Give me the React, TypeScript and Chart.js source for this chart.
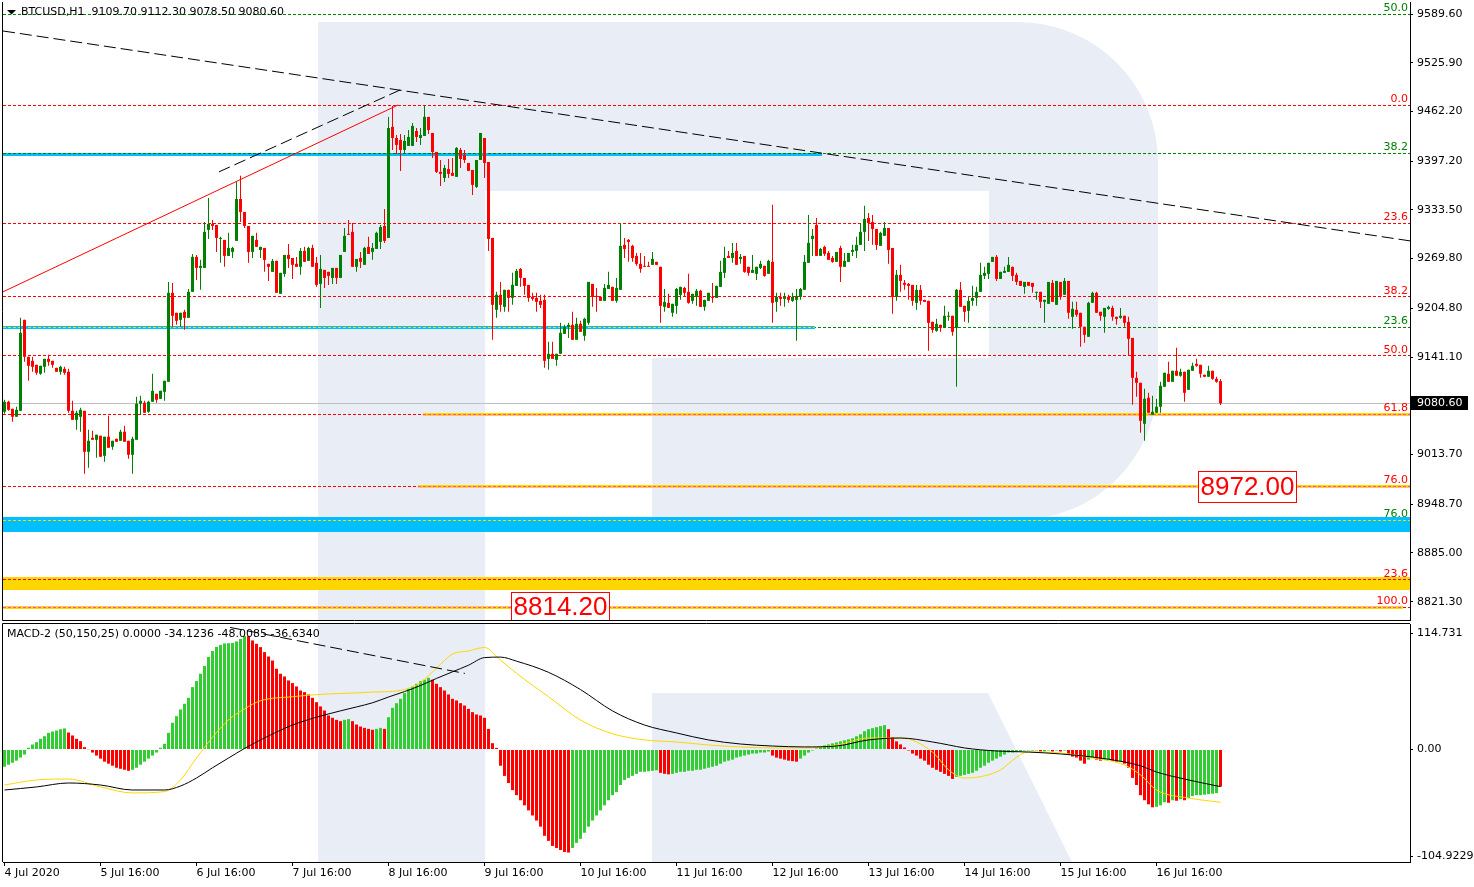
import React, { useEffect, useRef } from 'react';
import { Chart, registerables } from 'chart.js';

Chart.register(...registerables);

// ---------------- DATA ----------------
const opens = [
  9069.6, 9082.7, 9073.5, 9063.1, 9070.9, 9189.8, 9141.5, 9136.2, 9131.0, 9119.3,
  9128.4, 9138.8, 9136.2, 9127.0, 9121.9, 9125.7, 9121.9, 9070.9, 9059.1, 9063.1,
  9070.9, 9017.3, 9035.6, 9033.0, 9038.3, 9012.1, 9037.0, 9023.9, 9034.3, 9031.7,
  9043.5, 9031.7, 9013.4, 9033.0, 9080.1, 9081.4, 9069.6, 9082.7, 9093.1, 9086.5,
  9095.7, 9108.8, 9225.1, 9199.0, 9189.8, 9200.3, 9192.4, 9226.4, 9272.1, 9257.7,
  9257.7, 9307.4, 9315.2, 9313.9, 9295.6, 9294.3, 9273.4, 9278.6, 9293.0, 9347.8,
  9330.9, 9312.6, 9278.6, 9294.3, 9281.2, 9283.8, 9263.0, 9252.5, 9266.9, 9223.8,
  9249.9, 9274.7, 9270.7, 9263.0, 9259.1, 9279.9, 9266.9, 9283.8, 9264.3, 9236.8,
  9255.1, 9252.5, 9244.6, 9257.7, 9244.6, 9278.6, 9302.2, 9304.8, 9259.1, 9270.7,
  9261.7, 9285.2, 9278.6, 9282.5, 9291.7, 9312.6, 9296.9, 9442.0, 9427.5, 9425.0,
  9411.9, 9417.2, 9417.2, 9436.7, 9427.5, 9430.2, 9455.1, 9434.1, 9409.3, 9383.2,
  9375.3, 9387.0, 9381.9, 9376.7, 9411.9, 9405.4, 9394.9, 9385.8, 9363.6, 9398.8,
  9427.5, 9396.2, 9296.9, 9202.9, 9222.5, 9206.8, 9229.0, 9218.5, 9234.2, 9256.4,
  9244.6, 9235.5, 9219.8, 9218.5, 9214.6, 9215.9, 9138.8, 9145.4, 9137.5, 9145.4,
  9171.5, 9180.7, 9183.3, 9163.7, 9184.6, 9168.9, 9185.9, 9236.8, 9221.1, 9219.8,
  9214.6, 9230.2, 9232.9, 9214.6, 9229.0, 9287.8, 9294.3, 9286.5, 9273.4, 9263.0,
  9260.4, 9260.4, 9261.7, 9265.6, 9259.1, 9206.8, 9212.0, 9199.0, 9208.1, 9222.5,
  9231.5, 9226.4, 9214.6, 9219.8, 9227.7, 9206.8, 9214.6, 9219.8, 9218.5, 9232.9,
  9251.2, 9273.4, 9270.7, 9279.9, 9269.4, 9273.4, 9259.1, 9251.2, 9249.9, 9257.7,
  9260.4, 9249.9, 9265.6, 9213.3, 9219.8, 9217.2, 9219.8, 9214.6, 9215.9, 9219.8,
  9229.0, 9264.3, 9295.6, 9313.9, 9273.4, 9285.2, 9277.3, 9270.7, 9265.6, 9283.8,
  9259.1, 9265.6, 9278.6, 9279.9, 9287.8, 9304.8, 9323.0, 9317.8, 9308.6, 9286.5,
  9299.6, 9309.9, 9283.8, 9219.8, 9248.6, 9238.1, 9236.8, 9235.5, 9212.0, 9229.0,
  9215.9, 9214.6, 9187.2, 9175.4, 9183.3, 9179.3, 9193.8, 9195.1, 9179.3, 9229.0,
  9208.1, 9201.6, 9214.6, 9218.5, 9226.4, 9247.3, 9249.9, 9265.6, 9272.1, 9243.3,
  9251.2, 9252.5, 9259.1, 9248.6, 9240.7, 9232.9, 9239.4, 9238.1, 9225.1, 9226.4,
  9213.3, 9210.7, 9238.1, 9209.4, 9239.4, 9222.5, 9240.7, 9193.8, 9202.9, 9199.0,
  9180.7, 9167.6, 9212.0, 9225.1, 9200.3, 9193.8, 9204.1, 9205.4, 9193.8, 9192.4,
  9195.1, 9187.2, 9166.2, 9114.0, 9107.5, 9053.9, 9087.9, 9065.7, 9068.3, 9076.2,
  9102.3, 9119.3, 9108.8, 9123.2, 9116.7, 9121.9, 9098.3, 9123.2, 9132.3, 9131.0,
  9118.0, 9115.4, 9123.2, 9112.7, 9109.7,
];

const highs = [
  9085.3, 9084.0, 9073.5, 9076.2, 9192.4, 9189.8, 9141.5, 9141.5, 9131.0, 9129.7,
  9138.8, 9144.1, 9136.2, 9127.0, 9129.7, 9128.4, 9125.7, 9084.0, 9070.9, 9074.8,
  9070.9, 9046.1, 9044.8, 9039.6, 9038.3, 9037.0, 9064.4, 9031.7, 9034.3, 9046.1,
  9051.3, 9031.7, 9037.0, 9089.2, 9090.5, 9084.0, 9084.0, 9119.3, 9093.1, 9097.0,
  9110.1, 9239.4, 9238.1, 9199.0, 9199.0, 9202.9, 9230.2, 9276.0, 9274.7, 9268.2,
  9317.8, 9349.1, 9320.4, 9313.9, 9298.3, 9294.3, 9303.5, 9285.2, 9370.1, 9378.0,
  9330.9, 9312.6, 9299.6, 9303.5, 9285.2, 9283.8, 9263.0, 9269.4, 9266.9, 9251.2,
  9274.7, 9289.1, 9270.7, 9272.1, 9283.8, 9285.2, 9285.2, 9287.8, 9272.1, 9274.7,
  9255.1, 9252.5, 9257.7, 9257.7, 9274.7, 9309.9, 9320.4, 9316.5, 9269.4, 9278.6,
  9285.2, 9298.3, 9290.4, 9304.8, 9313.9, 9334.8, 9455.1, 9469.4, 9431.5, 9432.8,
  9431.5, 9438.0, 9447.2, 9440.6, 9440.6, 9469.4, 9455.1, 9434.1, 9409.3, 9398.8,
  9392.3, 9400.1, 9401.4, 9415.9, 9414.5, 9411.9, 9394.9, 9385.8, 9398.8, 9434.1,
  9427.5, 9396.2, 9296.9, 9226.4, 9239.4, 9229.0, 9229.0, 9251.2, 9256.4, 9257.7,
  9244.6, 9235.5, 9225.1, 9225.1, 9222.5, 9222.5, 9161.1, 9161.1, 9145.4, 9185.9,
  9183.3, 9185.9, 9200.3, 9192.4, 9188.5, 9192.4, 9239.4, 9236.8, 9231.5, 9219.8,
  9236.8, 9252.5, 9232.9, 9244.6, 9316.5, 9296.9, 9295.6, 9287.8, 9277.3, 9277.3,
  9273.4, 9265.6, 9278.6, 9265.6, 9259.1, 9230.2, 9223.8, 9210.7, 9231.5, 9232.9,
  9232.9, 9249.9, 9223.8, 9230.2, 9229.0, 9215.9, 9225.1, 9238.1, 9234.2, 9266.9,
  9285.2, 9279.9, 9290.4, 9290.4, 9276.0, 9273.4, 9259.1, 9274.7, 9259.1, 9266.9,
  9260.4, 9268.2, 9340.1, 9225.1, 9225.1, 9225.1, 9222.5, 9225.1, 9230.2, 9231.5,
  9274.7, 9327.0, 9308.6, 9323.0, 9283.8, 9286.5, 9279.9, 9273.4, 9278.6, 9286.5,
  9277.3, 9277.3, 9287.8, 9298.3, 9316.5, 9338.8, 9329.6, 9327.0, 9308.6, 9304.8,
  9317.8, 9309.9, 9283.8, 9255.1, 9261.7, 9242.0, 9238.1, 9235.5, 9235.5, 9235.5,
  9215.9, 9214.6, 9187.2, 9191.1, 9183.3, 9208.1, 9200.3, 9195.1, 9230.2, 9239.4,
  9208.1, 9219.8, 9234.2, 9232.9, 9264.3, 9259.1, 9264.3, 9272.1, 9274.7, 9252.5,
  9259.1, 9272.1, 9259.1, 9251.2, 9240.7, 9239.4, 9239.4, 9238.1, 9226.4, 9226.4,
  9215.9, 9239.4, 9242.0, 9240.7, 9239.4, 9244.6, 9240.7, 9213.3, 9213.3, 9199.0,
  9180.7, 9213.3, 9226.4, 9226.4, 9200.3, 9205.4, 9208.1, 9208.1, 9193.8, 9205.4,
  9195.1, 9193.8, 9166.2, 9121.9, 9107.5, 9099.6, 9094.4, 9090.5, 9086.6, 9108.8,
  9120.6, 9134.9, 9123.2, 9153.2, 9125.7, 9121.9, 9124.5, 9133.6, 9138.8, 9131.0,
  9118.0, 9129.7, 9123.2, 9115.4, 9112.3,
];

const lows = [
  9067.0, 9070.9, 9056.5, 9063.1, 9070.9, 9134.9, 9110.1, 9121.9, 9118.0, 9118.0,
  9120.6, 9129.7, 9127.0, 9121.9, 9118.0, 9118.0, 9068.3, 9059.1, 9046.1, 9043.5,
  8988.6, 8996.4, 9033.0, 9009.4, 9010.8, 9004.3, 9022.5, 9019.9, 9030.4, 9031.7,
  9030.4, 9008.1, 8988.6, 9033.0, 9065.7, 9068.3, 9068.3, 9082.7, 9081.4, 9086.5,
  9084.0, 9108.8, 9180.7, 9183.3, 9180.7, 9176.7, 9192.4, 9226.4, 9242.0, 9229.0,
  9257.7, 9295.6, 9307.4, 9278.6, 9264.3, 9259.1, 9273.4, 9270.7, 9293.0, 9317.8,
  9309.9, 9264.3, 9270.7, 9285.2, 9270.7, 9252.5, 9240.7, 9252.5, 9225.1, 9223.8,
  9246.0, 9257.7, 9243.3, 9259.1, 9248.6, 9265.6, 9266.9, 9259.1, 9232.9, 9205.4,
  9231.5, 9235.5, 9236.8, 9236.8, 9244.6, 9278.6, 9300.9, 9259.1, 9252.5, 9257.7,
  9261.7, 9276.0, 9268.2, 9282.5, 9282.5, 9290.4, 9296.9, 9411.9, 9406.7, 9384.5,
  9406.7, 9417.2, 9417.2, 9422.4, 9418.5, 9430.2, 9432.8, 9401.4, 9381.9, 9364.9,
  9370.1, 9375.3, 9378.0, 9376.7, 9388.3, 9394.9, 9384.5, 9353.1, 9362.2, 9398.8,
  9375.3, 9279.9, 9163.7, 9192.4, 9200.3, 9200.3, 9200.3, 9209.4, 9234.2, 9232.9,
  9222.5, 9213.3, 9214.6, 9200.3, 9205.4, 9127.0, 9124.5, 9138.8, 9129.7, 9145.4,
  9171.5, 9166.2, 9163.7, 9163.7, 9174.1, 9162.4, 9183.3, 9206.8, 9200.3, 9214.6,
  9214.6, 9230.2, 9214.6, 9212.0, 9229.0, 9270.7, 9265.6, 9265.6, 9260.4, 9251.2,
  9259.1, 9259.1, 9261.7, 9261.7, 9185.9, 9200.3, 9205.4, 9193.8, 9197.7, 9215.9,
  9221.1, 9210.7, 9210.7, 9208.1, 9206.8, 9201.6, 9214.6, 9212.0, 9218.5, 9232.9,
  9244.6, 9270.7, 9264.3, 9261.7, 9263.0, 9251.2, 9247.3, 9251.2, 9242.0, 9256.4,
  9246.0, 9249.9, 9185.9, 9200.3, 9208.1, 9206.8, 9212.0, 9213.3, 9162.4, 9215.9,
  9229.0, 9264.3, 9273.4, 9273.4, 9273.4, 9273.4, 9268.2, 9264.3, 9265.6, 9239.4,
  9259.1, 9265.6, 9273.4, 9270.7, 9287.8, 9279.9, 9293.0, 9287.8, 9281.2, 9286.5,
  9299.6, 9263.0, 9197.7, 9214.6, 9226.4, 9229.0, 9215.9, 9208.1, 9202.9, 9209.4,
  9213.3, 9149.3, 9172.8, 9174.1, 9174.1, 9179.3, 9188.5, 9168.9, 9102.3, 9206.8,
  9187.2, 9185.9, 9208.1, 9208.1, 9226.4, 9243.3, 9243.3, 9265.6, 9240.7, 9243.3,
  9251.2, 9252.5, 9240.7, 9235.5, 9234.2, 9223.8, 9234.2, 9225.1, 9215.9, 9205.4,
  9185.9, 9210.7, 9213.3, 9209.4, 9215.9, 9222.5, 9191.1, 9178.0, 9193.8, 9154.6,
  9159.8, 9167.6, 9212.0, 9199.0, 9188.5, 9172.8, 9202.9, 9188.5, 9183.3, 9191.1,
  9180.7, 9142.8, 9078.8, 9089.2, 9042.2, 9031.7, 9068.3, 9065.7, 9068.3, 9068.3,
  9102.3, 9108.8, 9108.8, 9116.7, 9115.4, 9082.7, 9098.3, 9123.2, 9128.4, 9114.0,
  9115.4, 9115.4, 9111.4, 9107.5, 9078.5,
];

const closes = [
  9082.7, 9072.2, 9063.1, 9072.2, 9172.8, 9141.5, 9129.7, 9128.4, 9120.6, 9129.7,
  9138.8, 9134.9, 9131.0, 9121.9, 9128.4, 9120.6, 9070.9, 9059.1, 9068.3, 9072.2,
  9017.3, 9031.7, 9033.0, 9039.6, 9010.8, 9037.0, 9022.5, 9031.7, 9030.4, 9043.5,
  9030.4, 9013.4, 9034.3, 9080.1, 9084.0, 9068.3, 9082.7, 9097.0, 9085.3, 9097.0,
  9110.1, 9225.1, 9195.1, 9188.5, 9199.0, 9192.4, 9226.4, 9272.1, 9257.7, 9260.4,
  9304.8, 9315.2, 9312.6, 9296.9, 9296.9, 9273.4, 9283.8, 9283.8, 9347.8, 9330.9,
  9312.6, 9278.6, 9299.6, 9285.2, 9285.2, 9268.2, 9259.1, 9266.9, 9225.1, 9251.2,
  9274.7, 9269.4, 9261.7, 9259.1, 9279.9, 9265.6, 9283.8, 9259.1, 9235.5, 9256.4,
  9244.6, 9247.3, 9257.7, 9244.6, 9274.7, 9299.6, 9300.9, 9259.1, 9269.4, 9265.6,
  9283.8, 9276.0, 9283.8, 9303.5, 9311.3, 9293.0, 9440.6, 9427.5, 9418.5, 9411.9,
  9423.7, 9428.9, 9443.3, 9428.9, 9431.5, 9455.1, 9438.0, 9409.3, 9383.2, 9380.6,
  9388.3, 9380.6, 9378.0, 9414.5, 9400.1, 9398.8, 9384.5, 9366.2, 9398.8, 9434.1,
  9394.9, 9295.6, 9209.4, 9222.5, 9209.4, 9229.0, 9218.5, 9235.5, 9253.8, 9244.6,
  9234.2, 9218.5, 9217.2, 9213.3, 9209.4, 9136.2, 9145.4, 9138.8, 9145.4, 9172.8,
  9180.7, 9183.3, 9163.7, 9184.6, 9174.1, 9191.1, 9239.4, 9219.8, 9219.8, 9214.6,
  9231.5, 9235.5, 9214.6, 9231.5, 9286.5, 9282.5, 9291.7, 9270.7, 9263.0, 9256.4,
  9259.1, 9259.1, 9269.4, 9261.7, 9208.1, 9213.3, 9205.4, 9210.7, 9230.2, 9232.9,
  9225.1, 9212.0, 9223.8, 9227.7, 9206.8, 9215.9, 9225.1, 9218.5, 9234.2, 9252.5,
  9270.7, 9270.7, 9277.3, 9261.7, 9272.1, 9252.5, 9251.2, 9255.1, 9259.1, 9263.0,
  9247.3, 9266.9, 9212.0, 9219.8, 9217.2, 9219.8, 9215.9, 9219.8, 9221.1, 9230.2,
  9265.6, 9290.4, 9299.6, 9273.4, 9282.5, 9276.0, 9268.2, 9265.6, 9278.6, 9259.1,
  9266.9, 9277.3, 9281.2, 9287.8, 9304.8, 9321.7, 9316.5, 9308.6, 9287.8, 9303.5,
  9309.9, 9281.2, 9219.8, 9248.6, 9240.7, 9235.5, 9234.2, 9214.6, 9229.0, 9214.6,
  9213.3, 9185.9, 9176.7, 9184.6, 9179.3, 9195.1, 9195.1, 9174.1, 9229.0, 9206.8,
  9200.3, 9214.6, 9218.5, 9226.4, 9248.6, 9251.2, 9264.3, 9272.1, 9243.3, 9252.5,
  9253.8, 9261.7, 9247.3, 9239.4, 9234.2, 9239.4, 9234.2, 9232.9, 9226.4, 9213.3,
  9215.9, 9239.4, 9213.3, 9240.7, 9219.8, 9240.7, 9199.0, 9204.1, 9196.4, 9180.7,
  9170.2, 9212.0, 9225.1, 9199.0, 9195.1, 9205.4, 9206.8, 9193.8, 9191.1, 9195.1,
  9185.9, 9164.9, 9114.0, 9107.5, 9057.8, 9086.6, 9068.3, 9069.6, 9076.2, 9103.6,
  9120.6, 9108.8, 9123.2, 9116.7, 9121.9, 9094.4, 9124.5, 9129.7, 9129.7, 9119.3,
  9115.4, 9123.2, 9112.7, 9108.8, 9080.6,
];

const macdHist = [
  -17, -15, -13, -11, -8, -5, 1.7, 4.9, 7.2, 10.5,
  13.1, 16.4, 17.7, 18.7, 20.0, 20.7, 16.7, 13.8, 10.5, 8.2,
  2.3, 0.3, -3, -6, -9, -12, -14, -16, -18, -19,
  -20, -21, -20, -18, -15, -12, -9, -6, -3, 1.7,
  5.6, 16.4, 26.3, 32.8, 39.4, 45.0, 50.9, 61.4, 67.4, 74.6,
  82.2, 91.1, 97.0, 101.0, 103.0, 104.4, 104.7, 105.0, 106.4, 108.8,
  111.9, 111.6, 107.4, 104.1, 100.8, 95.9, 91.6, 87.6, 79.5, 74.6,
  71.9, 68.0, 65.4, 62.1, 58.1, 56.5, 54.2, 50.9, 46.6, 42.4,
  38.4, 33.5, 31.2, 29.2, 27.9, 29.2, 29.9, 27.9, 24.6, 22.6,
  21.3, 20.3, 19.4, 20.3, 21.3, 20.3, 31.8, 41.0, 45.6, 49.9,
  55.5, 59.8, 62.1, 64.7, 67.4, 68.7, 70.6, 68.7, 64.7, 61.4,
  58.1, 54.2, 49.9, 48.3, 45.6, 43.3, 40.0, 36.8, 34.5, 33.5,
  31.2, 20.3, 6.2, 1.6, -16, -26, -33, -40, -45, -50,
  -55, -60, -65, -70, -76, -85, -90, -95, -97, -99,
  -101, -101.5, -97, -92, -88, -82, -76, -70, -65, -60,
  -55, -50, -45, -42, -35, -30, -28, -26, -24, -22,
  -22, -21.5, -21, -20.5, -23, -24, -24.5, -24, -23, -22,
  -22, -21, -21, -20, -20, -19, -18, -17, -16, -14,
  -12, -11, -10, -8, -7, -6, -5, -4, -4, -3,
  -3, -2, -6, -8, -9, -10, -11, -11.5, -12, -9,
  -6, -3, -1, 1, 3, 4, 5, 6, 7, 8,
  9, 10, 11, 13, 15, 18, 20, 21, 22, 23,
  24, 20, 12, 8, 5, 2, -1, -4, -6, -9,
  -11, -15, -18, -20, -22, -24, -26, -29, -27, -26,
  -25, -24, -23, -21, -18, -16, -13, -11, -9, -7,
  -5, -3, -3, -2, -2, -1, -1, -1, -1, -2,
  -2, -1, -2, -1, -2, -1, -5, -7, -8, -11,
  -14, -10, -8, -10, -11, -10, -10, -11, -12, -12,
  -14, -18, -28, -35, -45, -50, -54, -57, -56.5, -55,
  -52, -52.5, -50, -50.5, -49, -50, -48, -46, -45, -45,
  -44.5, -44, -43.5, -43, -36.6,
];
// bars the reference paints red although they are not below the previous bar
const histForcedRed = [304];

const lineIdx = [
  0, 8, 16, 24, 32, 40, 44, 48, 52, 56, 60, 64, 72, 80, 88, 92, 96, 100, 104, 108, 112, 116, 120, 124, 128, 136, 144, 152,
  160, 168, 176, 184, 192, 200, 208, 216, 224, 232, 236, 240, 248, 256, 264, 272, 280, 284, 288, 296, 304,
];
const yellowLine = [
  -35.0, -30.0, -29.1, -36.9, -42.8, -41.5, -30.0, -8.4, 12.0, 29.1, 40.0, 48.0, 52.0, 54.5, 55.7, 56.6, 57.0, 59.0, 66.0, 80.0, 94.0, 97.0, 100.5, 88.0,
  75.0, 52.0, 29.0, 15.5,
  9.4, 7.4, 4.4, 2.5, 1.5, 1.5, 4.4, 11.3, 11.3, -2.5, -20.0, -28.1, -22.2, -2.5, -3.4, -8.4, -15.3, -25.0, -39.9, -47.8, -52.0,
];
const blackLine = [
  -39.9, -36.9, -33.0, -35.0, -39.9, -39.9, -36.0, -28.1, -18.0, -8.4, 1.0, 9.4, 24.1, 34.0, 41.9, 46.0, 51.7, 57.0, 63.0, 70.0, 76.5, 83.0, 90.5, 91.0,
  87.0, 76.0, 59.0, 38.0,
  24.1, 16.3, 9.4, 5.4, 3.4, 2.5, 3.4, 9.4, 11.3, 7.4, 4.5, 1.5, -1.5, -2.5, -4.4, -7.4, -12.3, -16.0, -22.2, -30.0, -36.6,
];

const priceTicks = [9589.6, 9525.9, 9462.2, 9397.2, 9333.5, 9269.8, 9204.8, 9141.1, 9077.4, 9013.7, 8948.7, 8885.0, 8821.3];
const macdTicks = [114.731, 0, -104.9229];
const macdTickLabels = ['114.731', '0.00', '-104.9229'];
const timeTickIdx = [0, 24, 48, 72, 96, 120, 144, 168, 192, 216, 240, 264, 288];
const timeTickLabels = [
  '4 Jul 2020', '5 Jul 16:00', '6 Jul 16:00', '7 Jul 16:00', '8 Jul 16:00', '9 Jul 16:00', '10 Jul 16:00',
  '11 Jul 16:00', '12 Jul 16:00', '13 Jul 16:00', '14 Jul 16:00', '15 Jul 16:00', '16 Jul 16:00',
];

// Fibonacci levels
const fibPrices = [9589.6, 9470.3, 9407.6, 9316.1, 9220.2, 9180.2, 9142.8, 9066.6, 8972.0, 8927.6, 8850.1, 8814.2];
const fibLabels = ['50.0', '0.0', '38.2', '23.6', '38.2', '23.6', '50.0', '61.8', '76.0', '76.0', '23.6', '100.0'];
const fibIsGreen = [true, false, true, false, false, true, false, false, false, true, false, false];

// horizontal thick lines (price, from index, to index)
const bandPrices = [9405.8, 9180.2, 8922.6, 9066.6, 8972.0, 8844.9, 8814.2];
const bandFrom = [-0.375, -0.375, -0.375, 104.6, 103.4, -0.375, -0.375];
const bandTo = [204.4, 202.6, 351.4, 351.4, 351.4, 351.4, 349.6];
const bandKind = ['blue', 'blue', 'blueWide', 'yellow', 'yellow', 'yellowWide', 'yellow'];

// dashes drawn over thick lines
const overPrices = [9180.2, 8927.6, 9066.6, 8972.0, 8814.2];
const overFrom = [-0.375, -0.375, 104.6, 103.4, -0.375];
const overTo = [202.6, 351.4, 351.4, 351.4, 349.6];
const overKind = ['yellow', 'yellow', 'magenta', 'magenta', 'magenta'];

// trend lines
const trendFromIdx = [-0.375, 53.6, -0.375];
const trendFromPrice = [9567.4, 9383.2, 9226.4];
const trendToIdx = [351.4, 98.9, 98.4];
const trendToPrice = [9293.0, 9490.3, 9470.7];
const trendKind = ['dash', 'dash', 'red'];

const macdTrendIdx = [56.4, 115.1];
const macdTrendVal = [120.2, 74.9];

const boxTexts = ['8972.00', '8814.20'];
const boxPrices = [8972.0, 8814.2];
const boxIdx = [298.4, 126.6];

const lastPrice = 9080.6;
const titleText = 'BTCUSD,H1  9109.70 9112.30 9078.50 9080.60';
const macdTitle = 'MACD-2 (50,150,25) 0.0000 -34.1236 -48.0085 -36.6340';

// ---------------- STYLE ----------------
const FONT = '"DejaVu Sans", Verdana, sans-serif';
const GREEN = '#008000';
const RED = '#ff0000';
const HGREEN = '#32cd32';
const BLUE = '#00bfff';
const YELLOW = '#ffd700';
const MAGENTA = '#ff40ff';
const WM = '#e9edf5';
const X_MIN = -0.375;
const X_MAX = 351.375;

function drawWatermark(chart: any, offY: number) {
  const { ctx, chartArea: a } = chart;
  ctx.save();
  ctx.beginPath();
  ctx.rect(a.left, a.top, a.right - a.left, a.bottom - a.top);
  ctx.clip();
  ctx.translate(0, -offY);
  ctx.fillStyle = WM;
  ctx.fillRect(318, 22, 167, 840);
  ctx.beginPath();
  ctx.moveTo(485, 22);
  ctx.lineTo(1018, 22);
  ctx.arcTo(1158, 22, 1158, 162, 140);
  ctx.lineTo(1158, 380);
  ctx.arcTo(1158, 520, 1018, 520, 140);
  ctx.lineTo(652, 520);
  ctx.lineTo(652, 358);
  ctx.lineTo(989, 358);
  ctx.lineTo(989, 191);
  ctx.lineTo(485, 191);
  ctx.closePath();
  ctx.fill();
  ctx.beginPath();
  ctx.moveTo(652, 693);
  ctx.lineTo(988, 693);
  ctx.lineTo(1072, 862);
  ctx.lineTo(652, 862);
  ctx.closePath();
  ctx.fill();
  ctx.restore();
}

function hLine(ctx: CanvasRenderingContext2D, x1: number, x2: number, y: number, color: string, width: number, dash: number[]) {
  ctx.save();
  ctx.strokeStyle = color;
  ctx.lineWidth = width;
  ctx.setLineDash(dash);
  const yy = width % 2 === 1 ? Math.round(y - 0.5) + 0.5 : Math.round(y);
  ctx.beginPath();
  ctx.moveTo(x1, yy);
  ctx.lineTo(x2, yy);
  ctx.stroke();
  ctx.restore();
}

const mainOverlay = {
  id: 'mainOverlay',
  beforeDraw(chart: any) {
    drawWatermark(chart, 0);
  },
  beforeDatasetsDraw(chart: any) {
    const { ctx, chartArea: a } = chart;
    const xs = chart.scales.x;
    const ys = chart.scales.y;
    ctx.save();
    ctx.beginPath();
    ctx.rect(a.left, a.top, a.right - a.left, a.bottom - a.top);
    ctx.clip();
    bandPrices.forEach((p, k) => {
      const x1 = Math.max(a.left, xs.getPixelForValue(bandFrom[k]));
      const x2 = Math.min(a.right, xs.getPixelForValue(bandTo[k]));
      const kind = bandKind[k];
      const color = kind.startsWith('blue') ? BLUE : YELLOW;
      const w = kind === 'blueWide' ? 15 : kind === 'yellowWide' ? 13 : 3;
      hLine(ctx, x1, x2, ys.getPixelForValue(p), color, w, []);
    });
    fibPrices.forEach((p, k) => {
      hLine(ctx, a.left, a.right, ys.getPixelForValue(p), fibIsGreen[k] ? GREEN : RED, 1, [3, 2]);
    });
    overPrices.forEach((p, k) => {
      const x1 = Math.max(a.left, xs.getPixelForValue(overFrom[k]));
      const x2 = Math.min(a.right, xs.getPixelForValue(overTo[k]));
      hLine(ctx, x1, x2, ys.getPixelForValue(p), overKind[k] === 'yellow' ? YELLOW : MAGENTA, 1, [3, 2]);
    });
    hLine(ctx, a.left, a.right, ys.getPixelForValue(lastPrice), '#c0c0c0', 1, []);
    ctx.restore();
  },
  afterDatasetsDraw(chart: any) {
    const { ctx, chartArea: a } = chart;
    const xs = chart.scales.x;
    const ys = chart.scales.y;
    ctx.save();
    ctx.beginPath();
    ctx.rect(a.left, a.top, a.right - a.left, a.bottom - a.top);
    ctx.clip();
    trendKind.forEach((kind, k) => {
      ctx.save();
      ctx.strokeStyle = kind === 'red' ? RED : '#000';
      ctx.lineWidth = 1;
      ctx.setLineDash(kind === 'red' ? [] : [12, 5]);
      ctx.beginPath();
      ctx.moveTo(xs.getPixelForValue(trendFromIdx[k]), ys.getPixelForValue(trendFromPrice[k]));
      ctx.lineTo(xs.getPixelForValue(trendToIdx[k]), ys.getPixelForValue(trendToPrice[k]));
      ctx.stroke();
      ctx.restore();
    });
    ctx.font = `11px ${FONT}`;
    ctx.textAlign = 'right';
    ctx.textBaseline = 'alphabetic';
    fibPrices.forEach((p, k) => {
      ctx.fillStyle = fibIsGreen[k] ? GREEN : RED;
      ctx.fillText(fibLabels[k], a.right - 2, Math.round(ys.getPixelForValue(p)) - 3);
    });
    ctx.font = `26px "Liberation Sans", Arial, sans-serif`;
    ctx.textAlign = 'left';
    ctx.textBaseline = 'middle';
    boxTexts.forEach((t, k) => {
      const w = Math.round(ctx.measureText(t).width) + 4;
      const h = 31;
      const x = Math.round(xs.getPixelForValue(boxIdx[k])) + 0.5;
      const yc = ys.getPixelForValue(boxPrices[k]);
      const y = Math.round(yc - h / 2) + 0.5;
      ctx.fillStyle = '#fff';
      ctx.fillRect(x, y, w, h);
      ctx.strokeStyle = RED;
      ctx.lineWidth = 1;
      ctx.strokeRect(x, y, w, h);
      ctx.fillStyle = RED;
      ctx.fillText(t, x + 2, yc + 1);
    });
    ctx.restore();

    ctx.save();
    ctx.fillStyle = '#000';
    ctx.beginPath();
    ctx.moveTo(7, 10);
    ctx.lineTo(16, 10);
    ctx.lineTo(11.5, 14.5);
    ctx.closePath();
    ctx.fill();
    ctx.font = `11px ${FONT}`;
    ctx.textAlign = 'left';
    ctx.textBaseline = 'middle';
    ctx.fillText(titleText, 21, 12);
    ctx.strokeStyle = '#000';
    ctx.lineWidth = 1;
    ctx.beginPath();
    ctx.moveTo(a.left - 0.5, a.top);
    ctx.lineTo(a.left - 0.5, a.bottom + 0.5);
    ctx.lineTo(a.right, a.bottom + 0.5);
    ctx.stroke();
    const yp = Math.round(ys.getPixelForValue(lastPrice));
    ctx.fillStyle = '#000';
    ctx.fillRect(a.right + 1, yp - 7, 57, 14);
    ctx.fillStyle = '#fff';
    ctx.fillText(lastPrice.toFixed(2), a.right + 7, yp);
    ctx.restore();
  },
};

const macdOverlay = {
  id: 'macdOverlay',
  beforeDraw(chart: any) {
    drawWatermark(chart, 621);
  },
  afterDatasetsDraw(chart: any) {
    const { ctx, chartArea: a } = chart;
    const xs = chart.scales.x;
    const ys = chart.scales.y;
    ctx.save();
    ctx.beginPath();
    ctx.rect(a.left, a.top, a.right - a.left, a.bottom - a.top);
    ctx.clip();
    ctx.strokeStyle = '#000';
    ctx.lineWidth = 1;
    ctx.setLineDash([12, 5]);
    ctx.beginPath();
    ctx.moveTo(xs.getPixelForValue(macdTrendIdx[0]), ys.getPixelForValue(macdTrendVal[0]));
    ctx.lineTo(xs.getPixelForValue(macdTrendIdx[1]), ys.getPixelForValue(macdTrendVal[1]));
    ctx.stroke();
    ctx.restore();
    ctx.save();
    ctx.fillStyle = '#000';
    ctx.font = `11px ${FONT}`;
    ctx.textAlign = 'left';
    ctx.textBaseline = 'middle';
    ctx.fillText(macdTitle, 7, 13);
    ctx.strokeStyle = '#000';
    ctx.lineWidth = 1;
    ctx.beginPath();
    ctx.moveTo(a.left - 0.5, a.bottom);
    ctx.lineTo(a.left - 0.5, a.top - 0.5);
    ctx.lineTo(a.right, a.top - 0.5);
    ctx.stroke();
    ctx.restore();
  },
};

function mainConfig(): any {
  const colors = opens.map((o, i) => (closes[i] >= o ? GREEN : RED));
  const wicks = opens.map((o, i) => ({ x: i, y: [lows[i], highs[i]] }));
  const bodies = opens.map((o, i) => ({ x: i, y: [Math.min(o, closes[i]), Math.max(o, closes[i])] }));
  return {
    type: 'bar',
    data: {
      datasets: [
        {
          label: 'wick', data: wicks, backgroundColor: colors, barThickness: 1, grouped: false,
          minBarLength: 1, borderWidth: 0, inflateAmount: 0, order: 2,
        },
        {
          label: 'body', data: bodies, backgroundColor: colors, barThickness: 3, grouped: false,
          minBarLength: 1, borderWidth: 0, inflateAmount: 0, order: 1,
        },
      ],
    },
    options: {
      animation: false,
      responsive: false,
      maintainAspectRatio: false,
      devicePixelRatio: 1,
      events: [],
      layout: { padding: { left: 3, top: 2, right: 0, bottom: 1 } },
      plugins: { legend: { display: false }, tooltip: { enabled: false }, title: { display: false } },
      scales: {
        x: { type: 'linear', min: X_MIN, max: X_MAX, display: false, offset: false, grid: { offset: false } },
        y: {
          type: 'linear', position: 'right', min: 8797.4, max: 9605.3,
          afterBuildTicks: (s: any) => { s.ticks = priceTicks.map((v) => ({ value: v })); },
          afterFit: (s: any) => { s.width = 64; s.paddingTop = 0; s.paddingBottom = 0; },
          ticks: {
            autoSkip: false, padding: 4, color: '#000', font: { family: FONT, size: 11 },
            callback: (v: any) => Number(v).toFixed(2),
          },
          grid: { drawOnChartArea: false, drawTicks: true, tickLength: 3, color: '#000' },
          border: { display: true, color: '#000', width: 1 },
        },
      },
    },
    plugins: [mainOverlay],
  };
}

function macdConfig(): any {
  const histColors = macdHist.map((v, i) =>
    histForcedRed.includes(i) ? RED : i === 0 || v >= macdHist[i - 1] ? HGREEN : RED);
  return {
    type: 'bar',
    data: {
      datasets: [
        {
          type: 'line', label: 'signal', data: lineIdx.map((x, k) => ({ x, y: yellowLine[k] })),
          borderColor: YELLOW, borderWidth: 1, pointRadius: 0, tension: 0.3, cubicInterpolationMode: 'monotone', fill: false, order: 1,
        },
        {
          type: 'line', label: 'main', data: lineIdx.map((x, k) => ({ x, y: blackLine[k] })),
          borderColor: '#000', borderWidth: 1, pointRadius: 0, tension: 0.3, cubicInterpolationMode: 'monotone', fill: false, order: 0,
        },
        {
          type: 'bar', label: 'hist', data: macdHist.map((v, i) => ({ x: i, y: v })),
          backgroundColor: histColors, barThickness: 3, grouped: false, borderWidth: 0, inflateAmount: 0, order: 5,
        },
      ],
    },
    options: {
      animation: false,
      responsive: false,
      maintainAspectRatio: false,
      devicePixelRatio: 1,
      events: [],
      layout: { padding: { left: 3, top: 3, right: 0, bottom: 0 } },
      plugins: { legend: { display: false }, tooltip: { enabled: false }, title: { display: false } },
      scales: {
        x: {
          type: 'linear', position: 'bottom', min: X_MIN, max: X_MAX, offset: false,
          afterBuildTicks: (s: any) => { s.ticks = timeTickIdx.map((v) => ({ value: v })); },
          afterFit: (s: any) => { s.height = 25; s.paddingLeft = 0; s.paddingRight = 0; },
          ticks: {
            autoSkip: false, maxRotation: 0, minRotation: 0, align: 'start', padding: 1, color: '#000',
            font: { family: FONT, size: 11 },
            callback: (v: any, idx: number) => timeTickLabels[idx],
          },
          grid: { drawOnChartArea: false, drawTicks: true, tickLength: 4, color: '#000', offset: false },
          border: { display: true, color: '#000', width: 1 },
        },
        y: {
          type: 'linear', position: 'right', min: -110.83, max: 123.6,
          afterBuildTicks: (s: any) => { s.ticks = macdTicks.map((v) => ({ value: v })); },
          afterFit: (s: any) => { s.width = 64; s.paddingTop = 0; s.paddingBottom = 0; },
          ticks: {
            autoSkip: false, padding: 4, color: '#000', font: { family: FONT, size: 11 },
            callback: (v: any, idx: number) => macdTickLabels[idx],
          },
          grid: { drawOnChartArea: false, drawTicks: true, tickLength: 3, color: '#000' },
          border: { display: true, color: '#000', width: 1 },
        },
      },
    },
    plugins: [macdOverlay],
  };
}

export default function App() {
  const mainRef = useRef<HTMLCanvasElement>(null);
  const macdRef = useRef<HTMLCanvasElement>(null);
  useEffect(() => {
    const c1 = new Chart(mainRef.current as HTMLCanvasElement, mainConfig());
    const c2 = new Chart(macdRef.current as HTMLCanvasElement, macdConfig());
    return () => {
      c1.destroy();
      c2.destroy();
    };
  }, []);
  return (
    <div style={{ position: 'fixed', left: 0, top: 0, width: 1474, height: 887, background: '#fff', overflow: 'hidden' }}>
      <canvas ref={mainRef} width={1474} height={621} style={{ position: 'absolute', left: 0, top: 0, width: 1474, height: 621 }} />
      <canvas ref={macdRef} width={1474} height={266} style={{ position: 'absolute', left: 0, top: 621, width: 1474, height: 266 }} />
    </div>
  );
}
